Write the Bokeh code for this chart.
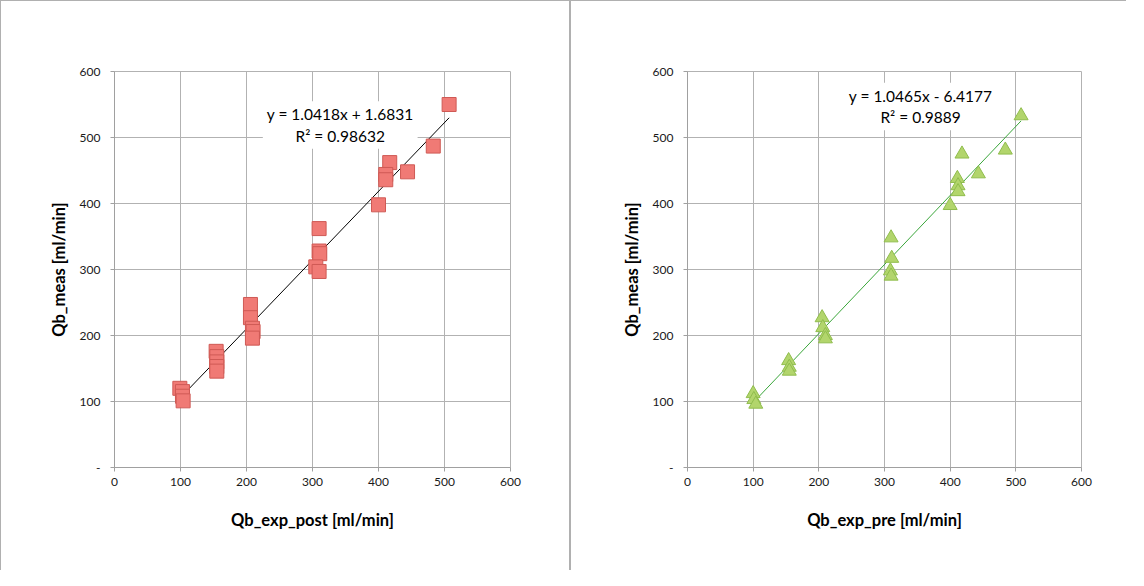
from bokeh.plotting import figure
from bokeh.layouts import row
from bokeh.models import FixedTicker, Label, Range1d
from bokeh.embed import file_html
from bokeh.resources import INLINE

# ---- data ----
post_x = [507, 483, 417, 444, 411, 411, 400, 310, 310, 311, 305, 310,
          206, 206, 209, 210, 209, 154, 155, 155, 155, 155, 99, 103, 103, 104]
post_y = [550, 487, 462, 448, 444, 436, 398, 362, 328, 324, 304, 297,
          247, 227, 211, 206, 196, 176, 168, 160, 153, 146, 120, 115, 108, 101]

pre_x = [508, 484, 418, 443, 411, 412, 412, 400, 310, 311, 309, 310,
         205, 206, 210, 210, 154, 155, 155, 100, 101, 104]
pre_y = [533, 481, 475, 445, 438, 427, 418, 397, 348, 317, 298, 290,
         227, 212, 200, 195, 162, 152, 146, 112, 103, 96]

post_fit = [1.0418, 1.6831]   # slope, intercept
pre_fit = [1.0465, -6.4177]
post_eq = ["y = 1.0418x + 1.6831", "R² = 0.98632"]
pre_eq = ["y = 1.0465x - 6.4177", "R² = 0.9889"]

ticks = [0, 100, 200, 300, 400, 500, 600]
x_labels = ["0", "100", "200", "300", "400", "500", "600"]
y_labels = ["-", "100", "200", "300", "400", "500", "600"]

FONT = "Lato"
GRID = "#b2b2b2"
AXIS = "#a0a0a0"
BORDER = "#b0b0b0"


def make_fig(width, bl, br, xtitle, xs, ys, fit, eq, eq_pos, marker, msize,
             fill, edge, line_color, styles):
    p = figure(width=width, height=570, output_backend="svg",
               toolbar_location=None, x_range=Range1d(0, 600),
               y_range=Range1d(0, 600), min_border_left=bl,
               min_border_right=br, min_border_top=70,
               min_border_bottom=104)
    p.outline_line_color = GRID
    p.background_fill_color = "white"
    p.border_fill_color = "white"
    p.styles = styles

    for ax, labels, title in ((p.xaxis[0], x_labels, xtitle),
                              (p.yaxis[0], y_labels, "Qb_meas [ml/min]")):
        ax.ticker = FixedTicker(ticks=ticks)
        ax.major_label_overrides = {t: l for t, l in zip(ticks, labels)}
        ax.minor_tick_line_color = None
        ax.major_tick_in = 0
        ax.major_tick_out = 4
        ax.major_tick_line_color = AXIS
        ax.axis_line_color = AXIS
        ax.major_label_text_font = FONT
        ax.major_label_text_font_size = "12px"
        ax.major_label_text_color = "#1a1a1a"
        ax.axis_label = title
        ax.axis_label_text_font = FONT
        ax.axis_label_text_font_size = "16.5px"
        ax.axis_label_text_font_style = "bold"
        ax.axis_label_text_color = "#000000"
    p.xaxis[0].major_label_standoff = 6
    p.yaxis[0].major_label_standoff = 10
    p.xaxis[0].axis_label_standoff = 21
    p.yaxis[0].axis_label_standoff = 8

    for g in (p.xgrid[0], p.ygrid[0]):
        g.ticker = FixedTicker(ticks=ticks)
        g.grid_line_color = GRID
        g.grid_line_width = 1

    # trend line over the data's x extent
    x0, x1 = min(xs), max(xs)
    p.line([x0, x1], [fit[0] * x0 + fit[1], fit[0] * x1 + fit[1]],
           line_color=line_color, line_width=1)

    p.scatter(xs, ys, marker=marker, size=msize, fill_color=fill,
              line_color=edge, line_width=1)

    lab = Label(x=eq_pos[0], y=eq_pos[1], text="\n".join(eq),
                text_align="center", text_baseline="middle",
                text_font=FONT, text_font_size="15.5px", text_color="#000000",
                background_fill_color="white", padding=4)
    p.add_layout(lab)
    return p


left = make_fig(570, 113, 61, "Qb_exp_post [ml/min]", post_x, post_y,
                post_fit, post_eq, (342, 519), "square", 14,
                "#f07a75", "#cf5a55", "#000000",
                {"border-top": f"1px solid {BORDER}",
                 "border-left": f"1px solid {BORDER}",
                 "border-right": f"1px solid {BORDER}"})
right = make_fig(556, 116, 46, "Qb_exp_pre [ml/min]", pre_x, pre_y,
                 pre_fit, pre_eq, (355, 547), "triangle", 14,
                 "#b2d56c", "#90bd4d", "#3aa63a",
                 {"border-top": f"1px solid {BORDER}",
                  "border-left": f"1px solid {BORDER}"})

layout = row(left, right)
open("out.html", "w").write(file_html(layout, INLINE))
